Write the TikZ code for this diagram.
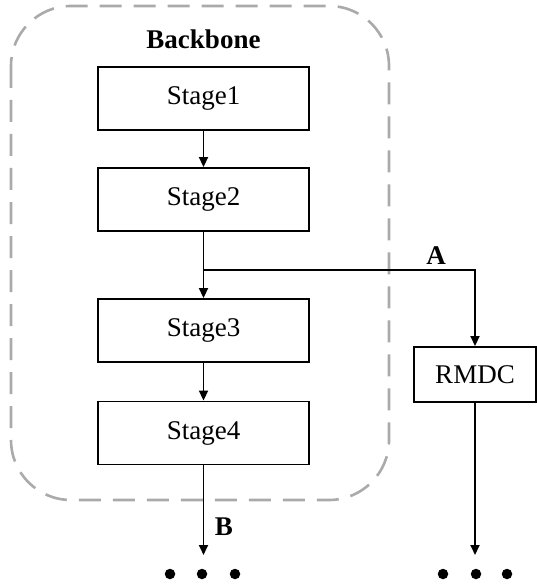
\documentclass[tikz,border=0pt]{standalone}
\usepackage{fontspec}
\setmainfont{Liberation Serif}
\usetikzlibrary{arrows.meta}
\definecolor{framegray}{RGB}{170,170,170}
\begin{document}
\begin{tikzpicture}[x=1pt,y=-1pt,
  stagebox/.style={draw, line width=1.9pt, minimum width=211pt, minimum height=63pt, inner sep=0pt, font=\fontsize{27}{30}\selectfont},
  rmbox/.style={draw, line width=1.9pt, minimum width=122pt, minimum height=55pt, inner sep=0pt, font=\fontsize{27}{30}\selectfont},
  arr/.style={line width=1.8pt, -{Triangle[length=10pt,width=9pt]}},
  lbl/.style={font=\fontsize{27}{30}\selectfont\bfseries, inner sep=0pt},
  dot/.style={circle, fill, minimum size=10.5pt, inner sep=0pt}]
\useasboundingbox (0,0) rectangle (536,585);
\draw[framegray, line width=2.6pt, dash pattern=on 22pt off 12pt, rounded corners=60pt] (11,6) rectangle (389,500);
\node[lbl] (bb) at (203.5,39) {Backbone};
\node[stagebox] (s1) at (203.5,98.5) {Stage1};
\node[stagebox] (s2) at (203.5,199.5) {Stage2};
\node[stagebox] (s3) at (203.5,330.5) {Stage3};
\node[stagebox] (s4) at (203.5,433) {Stage4};
\node[rmbox] (rm) at (475,374.5) {RMDC};
\coordinate (j) at (203.5,270);
\coordinate (be) at (203.5,555);
\coordinate (re) at (475,555);
\draw[arr] (s1.south) -- (s2.north);
\draw[arr] (s2.south) -- (s3.north);
\draw[arr] (j) -| (rm.north);
\draw[arr] (s3.south) -- (s4.north);
\draw[arr] (s4.south) -- (be);
\draw[arr] (rm.south) -- (re);
\node[lbl] (la) at (436,256) {A};
\node[lbl] (lb) at (224,527) {B};
\node[dot] (b1) at (170,574) {};
\node[dot] (b2) at (202,574) {};
\node[dot] (b3) at (235,574) {};
\node[dot] (r1) at (443,574) {};
\node[dot] (r2) at (476,574) {};
\node[dot] (r3) at (507,574) {};
\end{tikzpicture}
\end{document}
